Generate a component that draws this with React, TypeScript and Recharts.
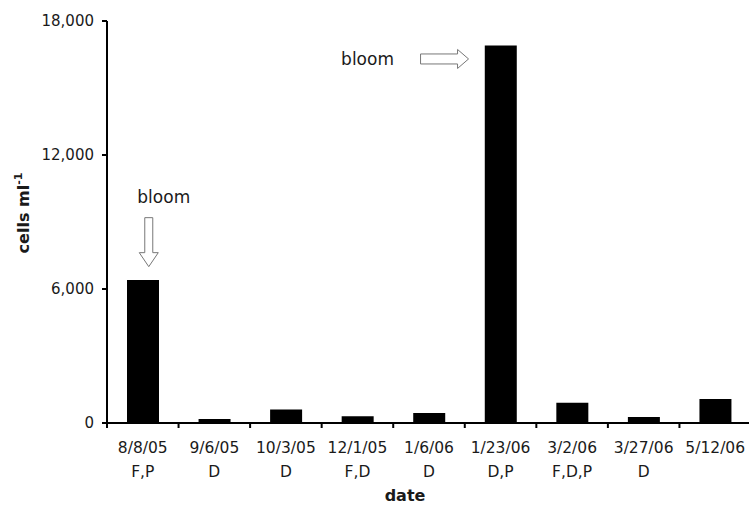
import React from 'react';
import { BarChart, Bar, XAxis, YAxis, ReferenceDot } from 'recharts';

const categories = ['8/8/05', '9/6/05', '10/3/05', '12/1/05', '1/6/06', '1/23/06', '3/2/06', '3/27/06', '5/12/06'];
const groupLabels = ['F,P', 'D', 'D', 'F,D', 'D', 'D,P', 'F,D,P', 'D', ''];
const cellValues = [6400, 180, 610, 300, 450, 16900, 910, 270, 1070];
const yTicks = [0, 6000, 12000, 18000];
const bloomDown = { date: '8/8/05', value: 7000, text: 'bloom' };
const bloomRight = { date: '1/23/06', value: 16300, text: 'bloom' };

const data = categories.map((date, i) => ({ date, group: groupLabels[i], cells: cellValues[i] }));

const FONT = '"DejaVu Sans", Verdana, sans-serif';
const TEXT = '#1a1a1a';

function DateTick(props: any) {
  const { x, y, payload, index } = props;
  const half = payload && typeof payload.offset === 'number' && payload.offset > 0 ? payload.offset : 35.75;
  const group = groupLabels[index] ?? '';
  return (
    <g>
      <line x1={x - half} y1={y} x2={x - half} y2={y + 5} stroke="#000" strokeWidth={2} />
      <text x={x} y={y + 30} textAnchor="middle" fontSize={15.5} fontFamily={FONT} fill={TEXT}>
        {payload.value}
      </text>
      {group ? (
        <text x={x} y={y + 54} textAnchor="middle" fontSize={15.5} fontFamily={FONT} fill={TEXT}>
          {group}
        </text>
      ) : null}
    </g>
  );
}

function DateTitle(props: any) {
  const vb = props.viewBox || { x: 107, y: 423, width: 644, height: 82 };
  return (
    <text x={vb.x + vb.width / 2 - 24} y={vb.y + 78} textAnchor="middle" fontSize={16} fontWeight="bold" fontFamily={FONT} fill={TEXT}>
      date
    </text>
  );
}

function CellsTitle(props: any) {
  const vb = props.viewBox || { x: 0, y: 21, width: 107, height: 402 };
  const x = vb.x + 29;
  const y = vb.y + vb.height / 2 - 9;
  return (
    <text x={x} y={y} textAnchor="middle" fontSize={16} fontWeight="bold" fontFamily={FONT} fill={TEXT} transform={`rotate(-90, ${x}, ${y})`}>
      cells ml
      <tspan fontSize={11} dy={-7}>-1</tspan>
    </text>
  );
}

function DownArrow(props: any) {
  const { cx, cy } = props;
  if (cx == null || cy == null) return null;
  const tx = cx + 6;
  const ty = cy;
  const pts = [
    [tx - 4, ty - 49], [tx + 4, ty - 49], [tx + 4, ty - 14], [tx + 9.5, ty - 14],
    [tx, ty], [tx - 9.5, ty - 14], [tx - 4, ty - 14],
  ].map((p) => p.join(',')).join(' ');
  return (
    <g>
      <text x={cx + 21} y={cy - 64} textAnchor="middle" fontSize={17} fontFamily={FONT} fill={TEXT}>
        {bloomDown.text}
      </text>
      <polygon points={pts} fill="#fff" stroke="#777" strokeWidth={1} />
    </g>
  );
}

function RightArrow(props: any) {
  const { cx, cy } = props;
  if (cx == null || cy == null) return null;
  const tx = cx - 32;
  const ty = cy;
  const pts = [
    [tx - 48, ty - 5], [tx - 11, ty - 5], [tx - 11, ty - 9.5], [tx, ty],
    [tx - 11, ty + 9.5], [tx - 11, ty + 5], [tx - 48, ty + 5],
  ].map((p) => p.join(',')).join(' ');
  return (
    <g>
      <text x={cx - 133} y={cy + 6} textAnchor="middle" fontSize={17} fontFamily={FONT} fill={TEXT}>
        {bloomRight.text}
      </text>
      <polygon points={pts} fill="#fff" stroke="#777" strokeWidth={1} />
    </g>
  );
}

export default function App() {
  return (
    <div style={{ position: 'absolute', left: 0, top: 0, width: 749, height: 505, overflow: 'hidden', background: '#fff' }}>
      <BarChart width={751} height={505} data={data} margin={{ top: 21, right: 0, left: 0, bottom: 0 }} barSize={32}>
        <XAxis
          dataKey="date"
          height={82}
          tickSize={0}
          tickMargin={0}
          tickLine={false}
          axisLine={{ stroke: '#000', strokeWidth: 2 }}
          tick={<DateTick />}
          interval={0}
          label={<DateTitle />}
        />
        <YAxis
          width={107}
          domain={[0, 18000]}
          ticks={yTicks}
          tickSize={5}
          tickMargin={8}
          axisLine={{ stroke: '#000', strokeWidth: 2 }}
          tickLine={{ stroke: '#000', strokeWidth: 2 }}
          tick={{ fontSize: 15, fontFamily: FONT, fill: TEXT }}
          tickFormatter={(v: number) => v.toLocaleString('en-US')}
          label={<CellsTitle />}
        />
        <Bar dataKey="cells" fill="#000" isAnimationActive={false} />
        <ReferenceDot x={bloomDown.date} y={bloomDown.value} shape={<DownArrow />} />
        <ReferenceDot x={bloomRight.date} y={bloomRight.value} shape={<RightArrow />} />
      </BarChart>
    </div>
  );
}
